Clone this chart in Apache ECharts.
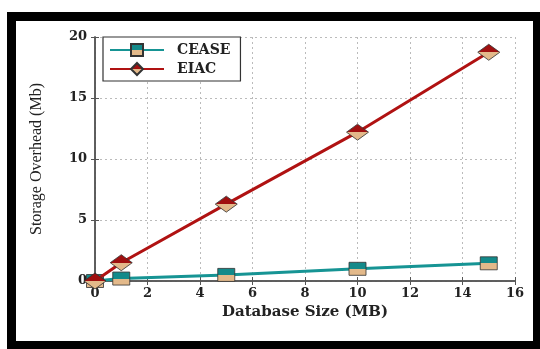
<!DOCTYPE html>
<html><head><meta charset="utf-8">
<script src="https://cdn.jsdelivr.net/npm/echarts@6/dist/echarts.min.js"></script>
<style>html,body{margin:0;padding:0;background:#fff}#c{width:540px;height:349px}</style>
</head><body><div id="c"></div>
<script>
const sizes = [0, 1, 5, 10, 15];
const cease = [0, 0.2, 0.5, 1.0, 1.45];
const eiac = [0, 1.5, 6.3, 12.2, 18.75];
const xTicks = [0, 2, 4, 6, 8, 10, 12, 14, 16];
const yTicks = [0, 5, 10, 15, 20];

const serif = '"DejaVu Serif", "Liberation Serif", serif';
function split(top, bottom) {
  return {type:'linear', x:0, y:0, x2:0, y2:1, colorStops:[
    {offset:0, color:top},{offset:0.5, color:top},{offset:0.5, color:bottom},{offset:1, color:bottom}]};
}
const chart = echarts.init(document.getElementById('c'), null, {renderer:'canvas'});
const axisCommon = {
  axisLine:{show:true, lineStyle:{color:'#555', width:1.5}},
  axisTick:{show:true, inside:true, length:4, lineStyle:{color:'#555'}},
  splitLine:{show:true, lineStyle:{color:'#bbb', type:[2,3], width:1}},
};
chart.setOption({
  animation:false,
  backgroundColor:'#fff',
  graphic:[{type:'rect', shape:{x:11.5, y:16.5, width:526, height:329}, style:{fill:'none', stroke:'#000', lineWidth:9}, z:100}],
  grid:{left:95, right:25, top:37, bottom:68, show:false},
  legend:{
    left:103, top:37, orient:'vertical', itemWidth:54, itemHeight:15, itemGap:5,
    padding:[6,10,5,6], borderColor:'#333', borderWidth:1.2, backgroundColor:'#fff',
    textStyle:{fontFamily:serif, fontWeight:'bold', fontSize:14, color:'#222', padding:[0,0,0,8]},
    data:['CEASE','EIAC']
  },
  xAxis:[{
    type:'value', min:0, max:16, interval:2, position:'bottom',
    name:'Database Size (MB)', nameLocation:'middle', nameGap:21,
    nameTextStyle:{fontFamily:serif, fontWeight:'bold', fontSize:15, color:'#222'},
    axisLabel:{fontFamily:serif, fontWeight:'bold', fontSize:13, color:'#222', margin:6,
      formatter:v=>xTicks.includes(v)?String(v):''},
    ...axisCommon
  },{
    type:'value', min:0, max:16, interval:2, position:'top',
    axisLabel:{show:false}, axisLine:axisCommon.axisLine, axisTick:axisCommon.axisTick, splitLine:{show:false}
  }],
  yAxis:[{
    type:'value', min:0, max:20, interval:5, position:'left',
    name:'Storage Overhead (Mb)', nameLocation:'middle', nameGap:50,
    nameTextStyle:{fontFamily:'"Liberation Serif", serif', fontSize:16, color:'#222'},
    axisLabel:{fontFamily:serif, fontWeight:'bold', fontSize:13, color:'#222', margin:8,
      formatter:v=>yTicks.includes(v)?String(v):''},
    ...axisCommon
  },{
    type:'value', min:0, max:20, interval:5, position:'right',
    axisLabel:{show:false}, axisLine:axisCommon.axisLine, axisTick:axisCommon.axisTick, splitLine:{show:false}
  }],
  series:[{
    name:'CEASE', type:'line', data:sizes.map((x,i)=>[x,cease[i]]),
    symbol:'rect', symbolSize:[17,13],
    lineStyle:{color:'#169494', width:3},
    itemStyle:{color:split('#138a8a','#e3b98a'), borderColor:'#333', borderWidth:0.8},
    z:3
  },{
    name:'EIAC', type:'line', data:sizes.map((x,i)=>[x,eiac[i]]),
    symbol:'diamond', symbolSize:[22,16],
    lineStyle:{color:'#b01212', width:3},
    itemStyle:{color:split('#a01010','#e3b98a'), borderColor:'#333', borderWidth:0.8},
    z:4
  }]
});
</script></body></html>
